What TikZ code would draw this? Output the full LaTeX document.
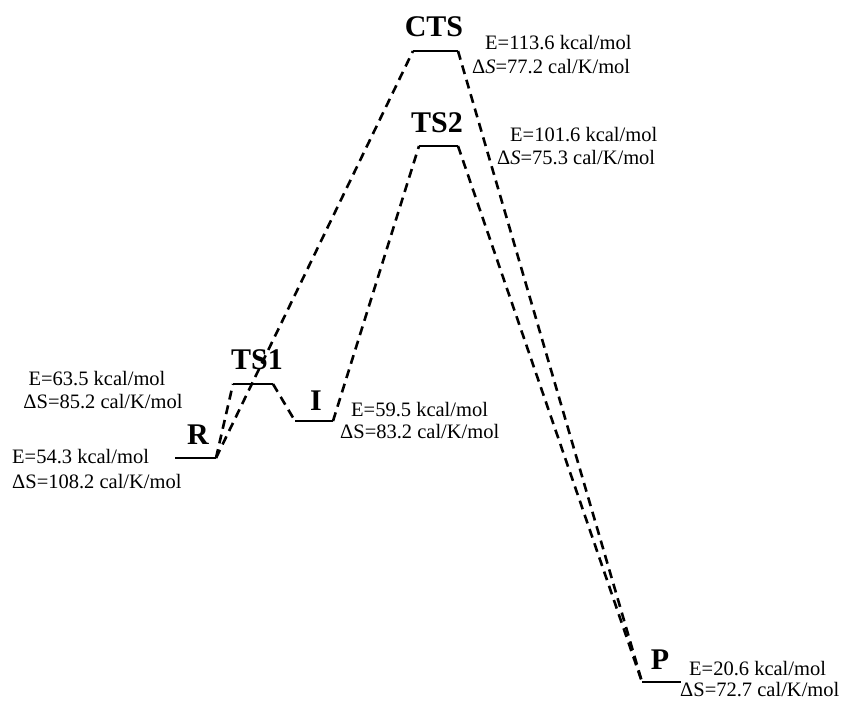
\documentclass[tikz,border=0pt]{standalone}
\usepackage{fontspec}
\setmainfont{Liberation Serif}
\begin{document}
\begin{tikzpicture}[x=1pt,y=-1pt,
  level/.style={line width=2pt},
  conn/.style={line width=2.6pt,dash pattern=on 9pt off 6pt},
  lbl/.style={font=\fontsize{30}{32}\selectfont\bfseries,inner sep=0pt},
  val/.style={font=\fontsize{20.5}{22}\selectfont,inner sep=0pt,anchor=west}]
\useasboundingbox (0,0) rectangle (852,703);
% level end points
\coordinate (Rl) at (175,458); \coordinate (Rr) at (216,458);
\coordinate (T1l) at (233,384); \coordinate (T1r) at (273,384);
\coordinate (Il) at (295,421); \coordinate (Ir) at (333,421);
\coordinate (Cl) at (413,51); \coordinate (Cr) at (458,51);
\coordinate (T2l) at (419,146); \coordinate (T2r) at (458,146);
\coordinate (Pl) at (642,682); \coordinate (Pr) at (681,682);
% levels
\draw[level] (Rl) -- (Rr);
\draw[level] (T1l) -- (T1r);
\draw[level] (Il) -- (Ir);
\draw[level] (Cl) -- (Cr);
\draw[level] (T2l) -- (T2r);
\draw[level] (Pl) -- (Pr);
% connectors
\draw[conn] (Rr) -- (T1l);
\draw[conn] (Rr) -- (Cl);
\draw[conn] (T1r) -- (Il);
\draw[conn] (Ir) -- (T2l);
\draw[conn] (Cr) -- (Pl);
\draw[conn] (T2r) -- (Pl);
% labels
\node[lbl] (lR) at (198,435) {R};
\node[lbl] (lT1) at (257,360) {TS1};
\node[lbl] (lI) at (316,401) {I};
\node[lbl] (lC) at (434,27) {CTS};
\node[lbl] (lT2) at (437,123) {TS2};
\node[lbl] (lP) at (660,660) {P};
% values
\node[val] (eC) at (485,43) {E=113.6 kcal/mol};
\node[val] (sC) at (472,67) {Δ\textit{S}=77.2 cal/K/mol};
\node[val] (eT2) at (510,135) {E=101.6 kcal/mol};
\node[val] (sT2) at (497,158) {Δ\textit{S}=75.3 cal/K/mol};
\node[val,anchor=center] (eT1) at (97,379) {E=63.5 kcal/mol};
\node[val,anchor=center] (sT1) at (103,402) {ΔS=85.2 cal/K/mol};
\node[val] (eR) at (12,457) {E=54.3 kcal/mol};
\node[val] (sR) at (12,482) {ΔS=108.2 cal/K/mol};
\node[val] (eI) at (351,410) {E=59.5 kcal/mol};
\node[val] (sI) at (340,432) {ΔS=83.2 cal/K/mol};
\node[val] (eP) at (689,669) {E=20.6 kcal/mol};
\node[val] (sP) at (680,690) {ΔS=72.7 cal/K/mol};
\end{tikzpicture}
\end{document}
